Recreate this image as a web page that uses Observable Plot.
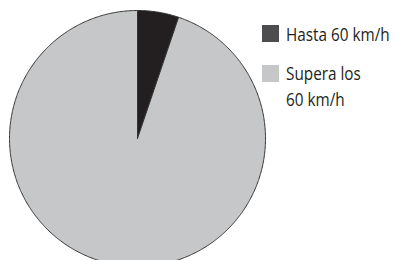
<!DOCTYPE html>
<html><head><meta charset="utf-8">
<script src="https://cdn.jsdelivr.net/npm/d3@7"></script>
<script src="https://cdn.jsdelivr.net/npm/@observablehq/plot@0.6"></script>
<style>
body{margin:0;background:#fff;}
#wrap{position:relative;width:394px;height:260px;overflow:hidden;}
.leg{position:absolute;font-family:"Open Sans",sans-serif;font-size:18px;color:#231f20;line-height:26px;white-space:nowrap;transform:scaleX(0.85);transform-origin:0 0;}
.sw{position:absolute;width:17px;height:17px;}
</style></head>
<body><div id="wrap"></div>
<script>
const categories = ["Hasta 60 km/h", "Supera los 60 km/h"];
const values = [5.2, 94.8];
const colors = ["#231f20", "#c6c7c8"];
const swatchColors = ["#4d4d4f", "#c6c7c8"];

const pie = d3.pie().sort(null).value(d => d.value)(categories.map((c, i) => ({category: c, value: values[i]})));
const pts = [];
for (const s of pie) {
  pts.push({category: s.data.category, x: 0, y: 0});
  const n = Math.max(2, Math.ceil((s.endAngle - s.startAngle) / 0.01));
  for (let k = 0; k <= n; k++) {
    const a = s.startAngle + (s.endAngle - s.startAngle) * k / n;
    pts.push({category: s.data.category, x: Math.sin(a), y: Math.cos(a)});
  }
  pts.push({category: s.data.category, x: 0, y: 0});
}

const chart = Plot.plot({
  width: 394, height: 260,
  marginLeft: 9, marginRight: 129, marginTop: 10, marginBottom: 0,
  x: {domain: [-1, 1], axis: null},
  y: {domain: [1 - 250/128, 1], axis: null},
  color: {domain: categories, range: colors},
  marks: [
    Plot.line(pts, {x: "x", y: "y", z: "category", fill: "category", stroke: "#333", strokeWidth: 1, curve: "linear"})
  ]
});
const wrap = document.getElementById("wrap");
wrap.appendChild(chart);

const legPos = [{sy: 25, ty: 21, lines: [categories[0]]}, {sy: 65, ty: 60, lines: ["Supera los", "60 km/h"]}];
legPos.forEach((p, i) => {
  const sw = document.createElement("div");
  sw.className = "sw"; sw.style.left = "262px"; sw.style.top = p.sy + "px"; sw.style.background = swatchColors[i];
  wrap.appendChild(sw);
  const t = document.createElement("div");
  t.className = "leg"; t.style.left = "286px"; t.style.top = p.ty + "px";
  t.innerHTML = p.lines.join("<br>");
  wrap.appendChild(t);
});
</script></body></html>
